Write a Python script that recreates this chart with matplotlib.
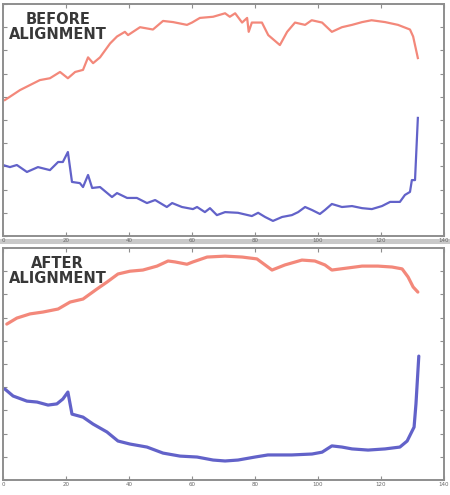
import numpy as np
from matplotlib import pyplot as plt
from matplotlib.patches import Rectangle

# before alignment - red (upper) trace
before_red_x = [0.6, 5.4, 11.7, 14.9, 18.1, 20.6, 22.9, 25.4, 27.0, 28.6, 30.8, 34.0, 36.2, 38.7, 39.7,
                43.5, 47.6, 50.8, 54.0, 58.4, 60.0, 62.5, 66.7, 70.5, 72.0, 73.7, 75.9, 77.5, 78.0, 79.0,
                82.2, 84.2, 87.9, 90.2, 92.7, 95.9, 98.0, 101.3, 104.4, 107.6, 110.8, 114.0, 117.0,
                121.3, 125.4, 129.2, 130.2, 131.7]
before_red_y = [5.86, 6.29, 6.72, 6.80, 7.07, 6.80, 7.07, 7.16, 7.70, 7.45, 7.70, 8.30, 8.60, 8.80, 8.66,
                9.00, 8.90, 9.27, 9.22, 9.10, 9.20, 9.40, 9.45, 9.60, 9.45, 9.60, 9.20, 9.40, 8.80, 9.20,
                9.20, 8.66, 8.23, 8.80, 9.20, 9.10, 9.30, 9.20, 8.80, 9.00, 9.10, 9.22, 9.30,
                9.22, 9.10, 8.90, 8.60, 7.67]

# before alignment - blue (lower) trace
before_blue_x = [0.0, 2.2, 4.4, 7.6, 11.1, 14.9, 17.5, 19.0, 20.6, 21.9, 24.4, 25.4, 27.0, 28.3, 30.8,
                 34.6, 36.2, 39.4, 42.5, 45.7, 48.3, 52.0, 53.7, 56.8, 60.3, 61.6, 64.1, 65.7, 67.9,
                 70.5, 74.6, 79.0, 81.0, 83.2, 85.7, 88.6, 91.7, 93.7, 95.9, 98.1, 100.6, 102.2,
                 104.4, 107.6, 110.8, 114.0, 117.1, 120.3, 122.9, 126.0, 127.6, 129.2, 129.8, 130.8, 131.7]
before_blue_y = [3.06, 2.97, 3.06, 2.76, 2.97, 2.84, 3.19, 3.19, 3.62, 2.33, 2.28, 2.11, 2.63, 2.07, 2.11,
                 1.68, 1.85, 1.64, 1.64, 1.42, 1.55, 1.25, 1.42, 1.25, 1.16, 1.25, 1.03, 1.20, 0.90,
                 1.03, 1.00, 0.86, 1.00, 0.82, 0.65, 0.82, 0.90, 1.03, 1.25, 1.12, 0.95, 1.12,
                 1.38, 1.25, 1.29, 1.20, 1.16, 1.29, 1.47, 1.47, 1.77, 1.90, 2.41, 2.41, 5.09]

# after alignment - red trace
after_red_x = [1.2, 4.4, 8.6, 12.7, 17.5, 21.3, 25.4, 29.8, 33.0, 36.5, 40.3, 44.4, 48.9, 52.4, 54.6,
               58.4, 60.3, 64.8, 70.5, 75.9, 80.6, 85.4, 89.5, 94.9, 99.0, 102.2, 104.4, 109.5,
               114.0, 119.0, 123.5, 126.7, 128.6, 130.2, 131.7]
after_red_y = [6.72, 6.98, 7.16, 7.24, 7.37, 7.67, 7.80, 8.23, 8.53, 8.88, 9.00, 9.05, 9.22, 9.44, 9.40,
               9.30, 9.40, 9.61, 9.65, 9.61, 9.53, 9.05, 9.27, 9.48, 9.44, 9.27, 9.05, 9.14,
               9.22, 9.22, 9.18, 9.10, 8.75, 8.32, 8.10]

# after alignment - blue trace
after_blue_x = [0.6, 3.2, 7.6, 10.8, 14.3, 17.1, 19.0, 20.6, 21.9, 25.4, 28.6, 33.0, 36.5, 40.3, 45.7,
                50.8, 56.2, 61.6, 66.7, 70.5, 74.6, 80.0, 84.1, 91.7, 98.1, 101.3, 104.4, 107.6,
                110.8, 115.9, 121.3, 126.0, 128.3, 130.5, 131.1, 132.0]
after_blue_y = [3.92, 3.62, 3.40, 3.36, 3.23, 3.28, 3.49, 3.79, 2.84, 2.71, 2.41, 2.07, 1.68, 1.55, 1.42,
                1.16, 1.03, 0.99, 0.86, 0.82, 0.86, 0.99, 1.08, 1.08, 1.12, 1.20, 1.47, 1.42,
                1.34, 1.29, 1.34, 1.42, 1.68, 2.28, 3.28, 5.34]

x_ticks = np.arange(0, 141, 20)
y_ticks = np.arange(0, 11, 1)

RED = '#f27b6c'
BLUE = '#5a5ac6'
SPINE = '#8e8e8e'

fig = plt.figure(figsize=(4.5, 4.95), dpi=100)
fig.patch.set_facecolor('white')

# gray strip between the two screenshots
fig.patches.append(Rectangle((0, 1 - 244/495), 1, 5/495, transform=fig.transFigure,
                             facecolor='#c9c9c9', edgecolor='none', zorder=-1))


def setup_axes(ax, label):
	ax.set_xlim(0, 140)
	ax.set_ylim(0, 10)
	ax.set_xticks(x_ticks)
	ax.set_yticks(y_ticks)
	ax.set_yticklabels([])
	ax.tick_params(direction='in', length=3, width=0.8, color=SPINE, top=True, right=True,
	               labelsize=4, labelcolor='#666666', pad=1.5)
	for sp in ax.spines.values():
		sp.set_color(SPINE)
		sp.set_linewidth(1.4)
	ax.text(0.124, 0.965, label, transform=ax.transAxes, ha='center', va='top',
	        fontsize=10.5, fontweight='bold', color='#383838', linespacing=1.0,
	        family='DejaVu Sans')


ax1 = fig.add_axes([3/450, 1 - 236/495, 441/450, 232/495])
ax1.plot(before_red_x, before_red_y, color=RED, lw=1.6, alpha=0.9)
ax1.plot(before_blue_x, before_blue_y, color=BLUE, lw=1.6, alpha=0.95)
setup_axes(ax1, "BEFORE\nALIGNMENT")

ax2 = fig.add_axes([3/450, 1 - 480/495, 441/450, 232/495])
ax2.plot(after_red_x, after_red_y, color=RED, lw=2.3, alpha=0.9, solid_capstyle='round')
ax2.plot(after_blue_x, after_blue_y, color=BLUE, lw=2.3, alpha=0.95, solid_capstyle='round')
setup_axes(ax2, "AFTER\nALIGNMENT")

fig.savefig('out.png', dpi=100)
